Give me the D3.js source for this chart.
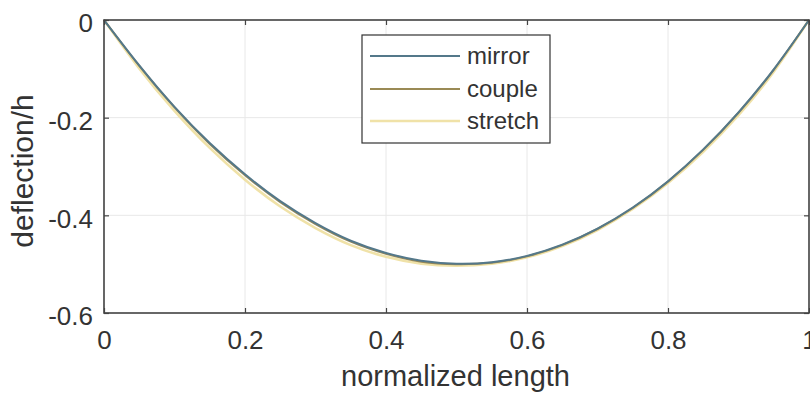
<!DOCTYPE html>
<html><head><meta charset="utf-8">
<script src="https://cdn.jsdelivr.net/npm/d3@7"></script>
<style>body{margin:0;background:#fff}svg{display:block}text{font-family:"Liberation Sans",Arial,sans-serif;fill:#333}</style>
</head><body>
<script>
const xs = [0,0.05,0.1,0.15,0.2,0.25,0.3,0.35,0.4,0.45,0.5,0.55,0.6,0.65,0.7,0.75,0.8,0.85,0.9,0.95,1];
const mirror  = [0,-0.093,-0.178,-0.252,-0.316,-0.371,-0.416,-0.452,-0.477,-0.493,-0.499,-0.496,-0.483,-0.460,-0.427,-0.384,-0.330,-0.265,-0.189,-0.101,0];
const couple  = [0,-0.094,-0.179,-0.254,-0.318,-0.373,-0.418,-0.454,-0.479,-0.495,-0.500,-0.497,-0.484,-0.461,-0.428,-0.385,-0.331,-0.266,-0.190,-0.102,0];
const stretch = [0,-0.099,-0.186,-0.262,-0.327,-0.382,-0.426,-0.461,-0.485,-0.499,-0.503,-0.499,-0.486,-0.463,-0.430,-0.387,-0.334,-0.270,-0.195,-0.106,0];
const seriesNames = ["mirror","couple","stretch"];
const xTicks = [0,0.2,0.4,0.6,0.8,1];
const yTicks = [0,-0.2,-0.4,-0.6];

const W=810,H=399;
const m={l:104,r:1,t:20,b:86};
const svg=d3.select("body").append("svg").attr("width",W).attr("height",H);
const x=d3.scaleLinear().domain([0,1]).range([m.l,W-m.r]);
const y=d3.scaleLinear().domain([-0.6,0]).range([H-m.b,m.t]);
const colors={mirror:"#54788a",couple:"#9a8a55",stretch:"#f0e2a8"};
const widths={mirror:2,couple:2,stretch:2.6};

// grid
svg.append("g").selectAll("line").data(xTicks).join("line")
  .attr("x1",d=>x(d)).attr("x2",d=>x(d)).attr("y1",m.t).attr("y2",H-m.b)
  .attr("stroke","#e8e8e8").attr("stroke-width",1);
svg.append("g").selectAll("line").data(yTicks).join("line")
  .attr("y1",d=>y(d)).attr("y2",d=>y(d)).attr("x1",m.l).attr("x2",W-m.r)
  .attr("stroke","#e8e8e8").attr("stroke-width",1);

// lines
const data={mirror,couple,stretch};
const line=d3.line().x((d,i)=>x(xs[i])).y(d=>y(d)).curve(d3.curveNatural);
["stretch","couple","mirror"].forEach(n=>{
  svg.append("path").datum(data[n]).attr("d",line).attr("fill","none")
    .attr("stroke",colors[n]).attr("stroke-width",widths[n]);
});

// axes
const fmt=d=>String(d);
const axB=svg.append("g").attr("transform",`translate(0,${H-m.b})`)
  .call(d3.axisBottom(x).tickValues(xTicks).tickFormat(fmt).tickSizeInner(-5).tickSizeOuter(0).tickPadding(18));
const axT=svg.append("g").attr("transform",`translate(0,${m.t})`)
  .call(d3.axisTop(x).tickValues(xTicks).tickFormat("").tickSizeInner(-5).tickSizeOuter(0));
const axL=svg.append("g").attr("transform",`translate(${m.l},0)`)
  .call(d3.axisLeft(y).tickValues(yTicks).tickFormat(fmt).tickSizeInner(-5).tickSizeOuter(0).tickPadding(11));
const axR=svg.append("g").attr("transform",`translate(${W-m.r},0)`)
  .call(d3.axisRight(y).tickValues(yTicks).tickFormat("").tickSizeInner(-5).tickSizeOuter(0));
[axB,axT,axL,axR].forEach(a=>{
  a.select(".domain").remove();
  a.selectAll(".tick line").attr("stroke","#444").attr("stroke-width",1.2);
  a.selectAll("text").attr("font-size",26).attr("fill","#333").style("font-family",'"Liberation Sans",Arial,sans-serif');
});
axB.selectAll("text").attr("dy","0.71em");
axL.selectAll("text").attr("dy","0.45em");
svg.append("rect").attr("x",m.l).attr("y",m.t).attr("width",W-m.r-m.l).attr("height",H-m.b-m.t)
  .attr("fill","none").attr("stroke","#444").attr("stroke-width",1.6);

// labels
svg.append("text").attr("x",(m.l+W-m.r)/2-1).attr("y",386).attr("text-anchor","middle")
  .attr("font-size",29).text("normalized length");
svg.append("text").attr("transform",`translate(33,171) rotate(-90)`)
  .attr("text-anchor","middle").attr("font-size",30).text("deflection/h");

// legend
const lg=svg.append("g");
lg.append("rect").attr("x",362).attr("y",35).attr("width",188).attr("height",108)
  .attr("fill","#fff").attr("stroke","#333").attr("stroke-width",1.2);
const rowY=[56,89,121];
seriesNames.forEach((n,i)=>{
  lg.append("line").attr("x1",370).attr("x2",460).attr("y1",rowY[i]).attr("y2",rowY[i])
    .attr("stroke",colors[n]).attr("stroke-width",widths[n]);
  lg.append("text").attr("x",467).attr("y",rowY[i]).attr("dy","0.35em").attr("font-size",24).text(n);
});
</script>
</body></html>
